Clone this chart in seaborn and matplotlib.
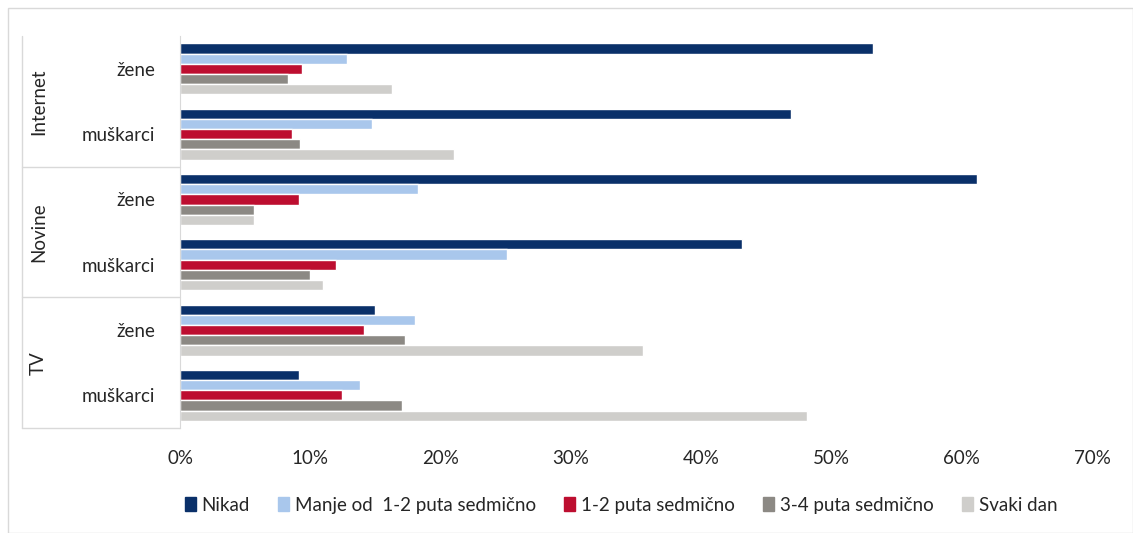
import pandas as pd
import matplotlib.pyplot as plt
import seaborn as sns
from matplotlib.lines import Line2D

groups = ["Internet", "Internet", "Novine", "Novine", "TV", "TV"]
genders = ["žene", "muškarci", "žene", "muškarci", "žene", "muškarci"]
series = ["Nikad", "Manje od  1-2 puta sedmično", "1-2 puta sedmično",
          "3-4 puta sedmično", "Svaki dan"]
colors = ["#0a3069", "#a9c7ec", "#bd0e30", "#8c8984", "#cfcecb"]

nikad = [53.2, 46.9, 61.2, 43.1, 15.0, 9.1]
manje = [12.8, 14.7, 18.3, 25.1, 18.0, 13.8]
jedan_dva = [9.4, 8.6, 9.1, 12.0, 14.1, 12.4]
tri_cetiri = [8.3, 9.2, 5.7, 10.0, 17.3, 17.0]
svaki_dan = [16.3, 21.0, 5.7, 11.0, 35.5, 48.1]

values = [nikad, manje, jedan_dva, tri_cetiri, svaki_dan]
cats = [g + "|" + s for g, s in zip(groups, genders)]

rows = []
for name, vals in zip(series, values):
    for c, v in zip(cats, vals):
        rows.append({"kat": c, "serija": name, "v": v})
df = pd.DataFrame(rows)

sns.set_style("white")
plt.rcParams['font.family'] = ['Lato', 'DejaVu Sans']
fs = 13.5

fig = plt.figure(figsize=(11.33, 5.33), dpi=100)
ax = fig.add_axes([0.1589, 0.197, 0.8049, 0.735])

sns.barplot(data=df, y="kat", x="v", hue="serija", order=cats,
            hue_order=series, palette=colors, orient="h", width=0.78,
            saturation=1, ax=ax, legend=False)

ax.set_xlim(0, 70)
ax.set_ylim(len(cats) - 0.5, -0.5)
ax.set_xticks(range(0, 71, 10))
ax.set_xticklabels([f"{t}%" for t in range(0, 71, 10)], fontsize=fs)
ax.tick_params(axis="x", length=0, pad=16)
ax.set_yticks(range(len(cats)))
ax.set_yticklabels(genders, fontsize=fs)
ax.tick_params(axis="y", length=0, pad=18)
ax.set_xlabel("")
ax.set_ylabel("")
for s in ["top", "right", "bottom"]:
    ax.spines[s].set_visible(False)
ax.spines["left"].set_color("#d9d9d9")

# tabela sa grupama lijevo
edge = "#d9d9d9"
xl = -158 / 912
trans = ax.get_yaxis_transform()
ax.add_line(Line2D([xl, xl], [-0.5, 5.5], transform=trans, color=edge,
                   lw=1, clip_on=False))
for b in [1.5, 3.5, 5.5]:
    ax.add_line(Line2D([xl, 0], [b, b], transform=trans, color=edge,
                       lw=1, clip_on=False))
for i, g in enumerate(["Internet", "Novine", "TV"]):
    ax.text(-0.155, 2 * i + 0.5, g, transform=trans, rotation=90,
            ha="center", va="center", fontsize=fs)

handles = [plt.Rectangle((0, 0), 1, 1, color=c) for c in colors]
fig.legend(handles, series, loc="center", bbox_to_anchor=(0.548, 0.052),
           ncol=5, frameon=False, fontsize=fs, handlelength=0.6,
           handleheight=0.8, handletextpad=0.3, columnspacing=1.5)

fig.add_artist(plt.Rectangle((0.007, 0.0), 0.993, 0.985, fill=False,
                             edgecolor="#d9d9d9", lw=1,
                             transform=fig.transFigure))

fig.savefig("out.png", dpi=100)
